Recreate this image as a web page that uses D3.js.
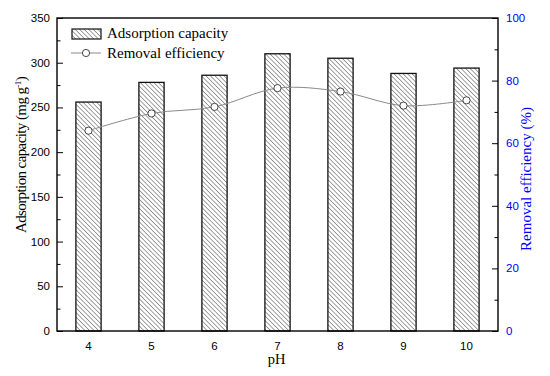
<!DOCTYPE html>
<html>
<head>
<meta charset="utf-8">
<script src="https://cdn.jsdelivr.net/npm/d3@7"></script>
<style>
  html, body { margin: 0; padding: 0; background: #fff; }
  svg { display: block; }
</style>
</head>
<body>
<svg id="chart" width="550" height="376"></svg>
<script>
const phLevels = ["4", "5", "6", "7", "8", "9", "10"];
const adsorption = [256, 278, 286, 310, 305, 288, 294];
const removal = [64.0, 69.5, 71.6, 77.6, 76.5, 72.0, 73.7];
const leftTicks = [0, 50, 100, 150, 200, 250, 300, 350];
const rightTicks = [0, 20, 40, 60, 80, 100];

const svg = d3.select("#chart"),
  margin = {top: 18, right: 52, bottom: 45, left: 57},
  width = +svg.attr("width") - margin.left - margin.right,
  height = +svg.attr("height") - margin.top - margin.bottom;

const blue = "#0000ff";
const serif = "Liberation Serif, Times New Roman, serif";
const sans = "Liberation Sans, Arial, sans-serif";

// hatch pattern for the bars
const defs = svg.append("defs");
const pat = defs.append("pattern")
  .attr("id", "hatch")
  .attr("patternUnits", "userSpaceOnUse")
  .attr("width", 3.2)
  .attr("height", 3.2)
  .attr("patternTransform", "rotate(-45)");
pat.append("rect").attr("width", 3.2).attr("height", 3.2).attr("fill", "#fff");
pat.append("line")
  .attr("x1", 0).attr("y1", 0).attr("x2", 0).attr("y2", 3.2)
  .attr("stroke", "#555").attr("stroke-width", 1.1);

const g = svg.append("g").attr("transform", `translate(${margin.left},${margin.top})`);

const x = d3.scaleBand().domain(phLevels).range([0, width]).paddingInner(0.6).paddingOuter(0.3);
const yL = d3.scaleLinear().domain([0, 350]).range([height, 0]);
const yR = d3.scaleLinear().domain([0, 100]).range([height, 0]);

// bars
g.append("g").selectAll("rect")
  .data(phLevels)
  .enter().append("rect")
  .attr("x", d => x(d))
  .attr("y", (d, i) => yL(adsorption[i]))
  .attr("width", x.bandwidth())
  .attr("height", (d, i) => height - yL(adsorption[i]))
  .attr("fill", "url(#hatch)")
  .attr("stroke", "#111")
  .attr("stroke-width", 1.3);

// removal efficiency line
const pts = phLevels.map((d, i) => [x(d) + x.bandwidth() / 2, yR(removal[i])]);
g.append("path")
  .datum(pts)
  .attr("fill", "none")
  .attr("stroke", "#8a8a8a")
  .attr("stroke-width", 1)
  .attr("d", d3.line().curve(d3.curveCatmullRom.alpha(0.5)));

g.append("g").selectAll("circle")
  .data(pts)
  .enter().append("circle")
  .attr("cx", d => d[0])
  .attr("cy", d => d[1])
  .attr("r", 3.6)
  .attr("fill", "#fff")
  .attr("stroke", "#333")
  .attr("stroke-width", 0.9);

// axes (ticks point inward)
const leftAxis = g.append("g")
  .call(d3.axisLeft(yL).tickValues(d3.range(0, 351, 25)).tickSize(-5).tickFormat(""));
leftAxis.selectAll(".tick line").attr("x2", d => d % 50 === 0 ? 6 : 3.5);
leftAxis.select(".domain").remove();
leftTicks.forEach(v => {
  g.append("text")
    .attr("x", -7).attr("y", yL(v)).attr("dy", "0.35em")
    .attr("text-anchor", "end")
    .attr("font-family", sans)
    .attr("font-size", 11.5)
    .text(v);
});

const rightAxis = g.append("g")
  .attr("transform", `translate(${width},0)`)
  .call(d3.axisRight(yR).tickValues(d3.range(0, 101, 10)).tickSize(-5).tickFormat(""));
rightAxis.selectAll(".tick line").attr("x2", d => d % 20 === 0 ? -6 : -3.5);
rightAxis.select(".domain").remove();
rightTicks.forEach(v => {
  g.append("text")
    .attr("x", width + 8).attr("y", yR(v)).attr("dy", "0.35em")
    .attr("fill", blue)
    .attr("font-family", sans)
    .attr("font-size", 11.5)
    .text(v);
});

// x tick labels
phLevels.forEach(d => {
  g.append("text")
    .attr("x", x(d) + x.bandwidth() / 2).attr("y", height + 19)
    .attr("text-anchor", "middle")
    .attr("font-family", sans)
    .attr("font-size", 11.5)
    .text(d);
});

// frame
g.append("rect")
  .attr("width", width).attr("height", height)
  .attr("fill", "none").attr("stroke", "#000").attr("stroke-width", 1.4);

// axis titles
g.append("text")
  .attr("x", width / 2 - 1).attr("y", height + 33)
  .attr("text-anchor", "middle")
  .attr("font-family", serif).attr("font-size", 14.5)
  .text("pH");

const lt = svg.append("text")
  .attr("transform", "translate(26,155) rotate(-90)")
  .attr("text-anchor", "middle")
  .attr("font-family", serif).attr("font-size", 15)
  .attr("letter-spacing", -0.6);
lt.append("tspan").text("Adsorption capacity (mg g");
lt.append("tspan").attr("dy", -5.5).attr("font-size", 9).text("-1");
lt.append("tspan").attr("dy", 5.5).text(")");

svg.append("text")
  .attr("transform", "translate(531,179) rotate(-90)")
  .attr("text-anchor", "middle")
  .attr("fill", blue)
  .attr("font-family", serif).attr("font-size", 15)
  .text("Removal efficiency (%)");

// legend
const leg = svg.append("g");
leg.append("rect")
  .attr("x", 72).attr("y", 29).attr("width", 29).attr("height", 10)
  .attr("fill", "url(#hatch)").attr("stroke", "#111").attr("stroke-width", 1.2);
leg.append("text")
  .attr("x", 107).attr("y", 37.5)
  .attr("font-family", serif).attr("font-size", 15)
  .text("Adsorption capacity");
leg.append("line")
  .attr("x1", 71).attr("x2", 101).attr("y1", 53).attr("y2", 53)
  .attr("stroke", "#8a8a8a").attr("stroke-width", 1);
leg.append("circle")
  .attr("cx", 86).attr("cy", 53).attr("r", 3.6)
  .attr("fill", "#fff").attr("stroke", "#333").attr("stroke-width", 0.9);
leg.append("text")
  .attr("x", 107).attr("y", 57.5)
  .attr("font-family", serif).attr("font-size", 15)
  .text("Removal efficiency");
</script>
</body>
</html>
